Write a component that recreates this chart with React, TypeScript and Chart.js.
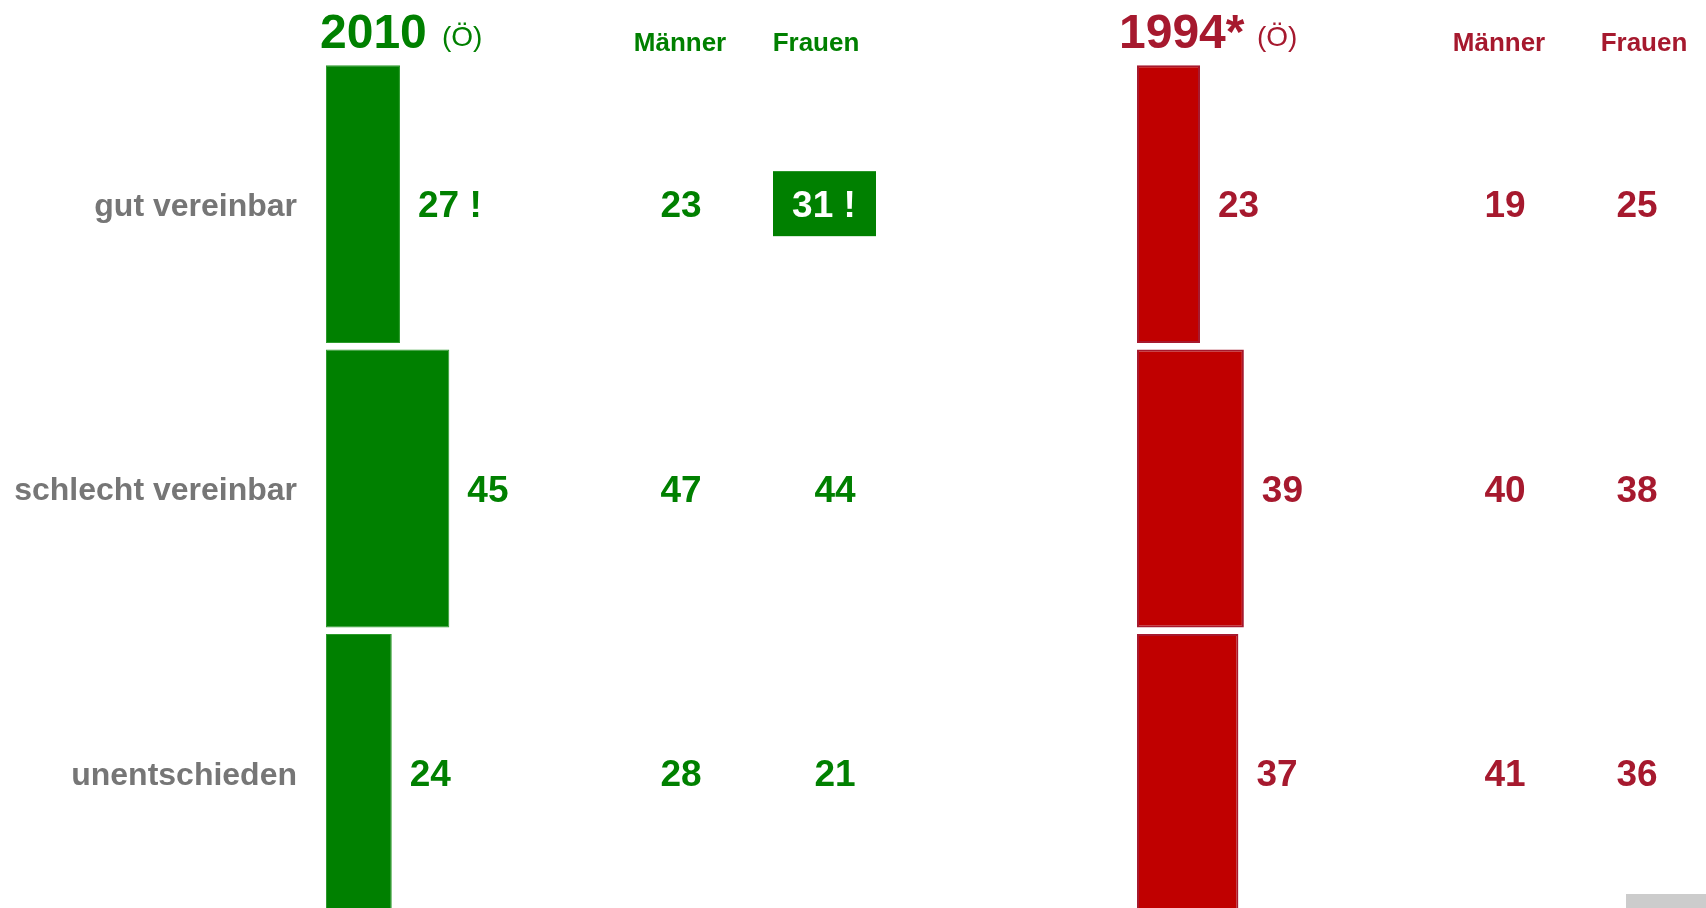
import React, { useEffect, useRef } from "react";
import { Chart, registerables } from "chart.js";

Chart.register(...registerables);

// ---- data ----
const categories = ["gut vereinbar", "schlecht vereinbar", "unentschieden"];
const total2010 = [27, 45, 24];
const men2010 = [23, 47, 28];
const women2010 = [31, 44, 21];
const total1994 = [23, 39, 37];
const men1994 = [19, 40, 41];
const women1994 = [25, 38, 36];
const flagTotal2010 = [true, false, false];
const flagWomen2010 = [true, false, false];
const title2010 = "2010";
const title1994 = "1994*";
const subTitle = "(Ö)";
const colHeaders = ["Männer", "Frauen"];

// ---- styles ----
const GREEN = "#008000";
const RED_TEXT = "#A6192E";
const RED_FILL = "#C00000";
const GRAY = "#767676";
const FONT = "'Liberation Sans', Arial, Helvetica, sans-serif";
const W = 1706;
const H = 916;
const PX_PER_UNIT = 2.74;
const ORIGIN_L = 326;
const ORIGIN_R = 1137;
const TEXT_DY = 3;

const overlay = {
  id: "overlay",
  afterDraw(chart: any) {
    const ctx = chart.ctx as CanvasRenderingContext2D;
    const y = chart.scales.y;
    const xL = chart.scales.xL;
    const xR = chart.scales.xR;
    ctx.save();

    // titles
    ctx.textBaseline = "alphabetic";
    ctx.textAlign = "left";
    ctx.fillStyle = GREEN;
    ctx.font = `bold 48px ${FONT}`;
    ctx.fillText(title2010, 320, 48);
    ctx.font = `28px ${FONT}`;
    ctx.fillText(subTitle, 442, 46);
    ctx.fillStyle = RED_TEXT;
    ctx.font = `bold 48px ${FONT}`;
    ctx.fillText(title1994, 1119, 48);
    ctx.font = `28px ${FONT}`;
    ctx.fillText(subTitle, 1257, 46);

    // column headers
    ctx.textAlign = "center";
    ctx.font = `bold 26px ${FONT}`;
    ctx.fillStyle = GREEN;
    ctx.fillText(colHeaders[0], 680, 51);
    ctx.fillText(colHeaders[1], 816, 51);
    ctx.fillStyle = RED_TEXT;
    ctx.fillText(colHeaders[0], 1499, 51);
    ctx.fillText(colHeaders[1], 1644, 51);

    ctx.textBaseline = "middle";
    categories.forEach((cat, i) => {
      const rowY = y.getPixelForValue(i);
      const cy = rowY + TEXT_DY;
      // category label
      ctx.textAlign = "right";
      ctx.font = `bold 32px ${FONT}`;
      ctx.fillStyle = GRAY;
      ctx.fillText(cat, xL.getPixelForValue(0) - 29, cy);

      ctx.font = `bold 37px ${FONT}`;
      // 2010 total
      ctx.textAlign = "left";
      ctx.fillStyle = GREEN;
      ctx.fillText(
        String(total2010[i]) + (flagTotal2010[i] ? " !" : ""),
        xL.getPixelForValue(total2010[i]) + 18,
        cy
      );
      // 2010 columns
      ctx.textAlign = "center";
      ctx.fillText(String(men2010[i]), 681, cy);
      if (flagWomen2010[i]) {
        ctx.fillStyle = GREEN;
        ctx.fillRect(773, rowY - 33, 103, 65);
        ctx.fillStyle = "#ffffff";
        ctx.fillText(String(women2010[i]) + " !", 824, cy);
      } else {
        ctx.fillStyle = GREEN;
        ctx.fillText(String(women2010[i]), 835, cy);
      }
      // 1994
      ctx.fillStyle = RED_TEXT;
      ctx.textAlign = "left";
      ctx.fillText(String(total1994[i]), xR.getPixelForValue(total1994[i]) + 18, cy);
      ctx.textAlign = "center";
      ctx.fillText(String(men1994[i]), 1505, cy);
      ctx.fillText(String(women1994[i]), 1637, cy);
    });

    // footer decoration
    ctx.fillStyle = "#CCCCCC";
    ctx.fillRect(1626, 894, 80, 14);
    ctx.restore();
  },
};

export default function App() {
  const ref = useRef<HTMLCanvasElement | null>(null);
  useEffect(() => {
    if (!ref.current) return;
    const chart = new Chart(ref.current, {
      type: "bar",
      data: {
        labels: categories,
        datasets: [
          {
            label: title2010,
            data: total2010,
            xAxisID: "xL",
            backgroundColor: GREEN,
            borderColor: "#2C9A2C",
            borderWidth: 1,
            borderSkipped: false,
            grouped: false,
            barPercentage: 0.977,
            categoryPercentage: 1,
          } as any,
          {
            label: title1994,
            data: total1994,
            xAxisID: "xR",
            backgroundColor: RED_FILL,
            borderColor: RED_TEXT,
            borderWidth: 2,
            borderSkipped: false,
            grouped: false,
            barPercentage: 0.977,
            categoryPercentage: 1,
          } as any,
        ],
      },
      options: {
        indexAxis: "y",
        responsive: false,
        animation: false,
        layout: { padding: { top: 62, bottom: 1, left: 0, right: 0 } },
        scales: {
          y: { type: "category", display: false },
          xL: {
            axis: "x",
            type: "linear",
            display: false,
            min: -ORIGIN_L / PX_PER_UNIT,
            max: (W - ORIGIN_L) / PX_PER_UNIT,
          },
          xR: {
            axis: "x",
            type: "linear",
            display: false,
            min: -ORIGIN_R / PX_PER_UNIT,
            max: (W - ORIGIN_R) / PX_PER_UNIT,
          },
        } as any,
        plugins: {
          legend: { display: false },
          tooltip: { enabled: false },
        },
      },
      plugins: [overlay],
    });
    return () => chart.destroy();
  }, []);

  return (
    <div
      style={{
        position: "fixed",
        left: 0,
        top: 0,
        width: W,
        height: 908,
        overflow: "hidden",
        background: "#ffffff",
      }}
    >
      <canvas ref={ref} width={W} height={H} style={{ display: "block" }} />
    </div>
  );
}
